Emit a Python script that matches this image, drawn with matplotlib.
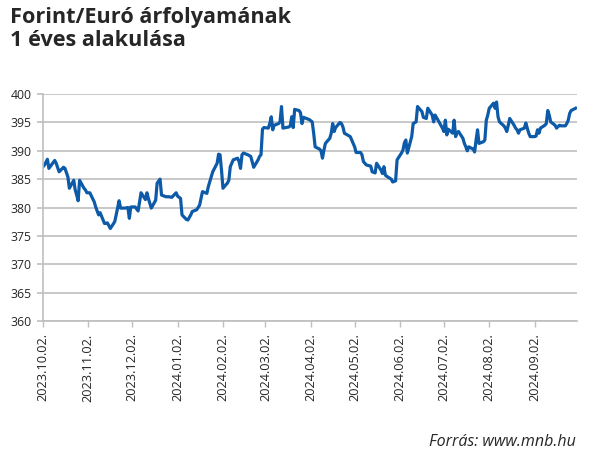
import matplotlib
matplotlib.use('Agg')
import matplotlib.pyplot as plt
import matplotlib.dates as mdates
import pandas as pd

# ============ data (EUR/HUF) ============
dates = [
    "2023-10-02", "2023-10-03", "2023-10-05", "2023-10-06", "2023-10-10", "2023-10-11", "2023-10-13",
    "2023-10-16", "2023-10-17", "2023-10-19", "2023-10-20", "2023-10-23", "2023-10-24", "2023-10-25",
    "2023-10-26", "2023-10-27", "2023-10-30", "2023-10-31", "2023-11-01", "2023-11-03", "2023-11-06",
    "2023-11-07", "2023-11-09", "2023-11-10", "2023-11-13", "2023-11-14", "2023-11-15", "2023-11-17",
    "2023-11-20", "2023-11-21", "2023-11-23", "2023-11-24", "2023-11-27", "2023-11-29", "2023-11-30",
    "2023-12-01", "2023-12-04", "2023-12-06", "2023-12-08", "2023-12-11", "2023-12-12", "2023-12-13",
    "2023-12-15", "2023-12-18", "2023-12-19", "2023-12-21", "2023-12-22", "2023-12-25", "2023-12-27",
    "2023-12-29", "2024-01-01", "2024-01-02", "2024-01-04", "2024-01-05", "2024-01-08", "2024-01-09",
    "2024-01-11", "2024-01-12", "2024-01-15", "2024-01-17", "2024-01-19", "2024-01-22", "2024-01-23",
    "2024-01-25", "2024-01-26", "2024-01-29", "2024-01-30", "2024-01-31", "2024-02-01", "2024-02-02",
    "2024-02-05", "2024-02-06", "2024-02-07", "2024-02-09", "2024-02-12", "2024-02-13", "2024-02-14",
    "2024-02-15", "2024-02-16", "2024-02-19", "2024-02-21", "2024-02-23", "2024-02-26", "2024-02-27",
    "2024-02-28", "2024-02-29", "2024-03-01", "2024-03-04", "2024-03-05", "2024-03-06", "2024-03-07",
    "2024-03-08", "2024-03-11", "2024-03-12", "2024-03-13", "2024-03-14", "2024-03-18", "2024-03-19",
    "2024-03-20", "2024-03-21", "2024-03-22", "2024-03-25", "2024-03-26", "2024-03-27", "2024-03-28",
    "2024-04-01", "2024-04-02", "2024-04-03", "2024-04-04", "2024-04-05", "2024-04-08", "2024-04-09",
    "2024-04-10", "2024-04-11", "2024-04-12", "2024-04-15", "2024-04-16", "2024-04-17", "2024-04-18",
    "2024-04-19", "2024-04-22", "2024-04-23", "2024-04-24", "2024-04-25", "2024-04-29", "2024-04-30",
    "2024-05-02", "2024-05-03", "2024-05-06", "2024-05-07", "2024-05-08", "2024-05-10", "2024-05-13",
    "2024-05-14", "2024-05-16", "2024-05-17", "2024-05-20", "2024-05-21", "2024-05-22", "2024-05-23",
    "2024-05-24", "2024-05-27", "2024-05-28", "2024-05-30", "2024-05-31", "2024-06-03", "2024-06-04",
    "2024-06-05", "2024-06-06", "2024-06-07", "2024-06-10", "2024-06-11", "2024-06-13", "2024-06-14",
    "2024-06-17", "2024-06-18", "2024-06-20", "2024-06-21", "2024-06-24", "2024-06-25", "2024-06-26",
    "2024-06-28", "2024-07-01", "2024-07-02", "2024-07-03", "2024-07-04", "2024-07-05", "2024-07-08",
    "2024-07-09", "2024-07-10", "2024-07-11", "2024-07-12", "2024-07-15", "2024-07-16", "2024-07-17",
    "2024-07-18", "2024-07-19", "2024-07-22", "2024-07-23", "2024-07-24", "2024-07-25", "2024-07-26",
    "2024-07-29", "2024-07-30", "2024-07-31", "2024-08-01", "2024-08-02", "2024-08-05", "2024-08-06",
    "2024-08-07", "2024-08-08", "2024-08-09", "2024-08-12", "2024-08-13", "2024-08-14", "2024-08-15",
    "2024-08-16", "2024-08-19", "2024-08-20", "2024-08-21", "2024-08-22", "2024-08-23", "2024-08-26",
    "2024-08-27", "2024-08-28", "2024-08-29", "2024-08-30", "2024-09-02", "2024-09-03", "2024-09-04",
    "2024-09-05", "2024-09-06", "2024-09-09", "2024-09-10", "2024-09-11", "2024-09-12", "2024-09-13",
    "2024-09-16", "2024-09-17", "2024-09-19", "2024-09-20", "2024-09-23", "2024-09-24", "2024-09-25",
    "2024-09-26", "2024-09-27", "2024-09-30",
]
rates = [
    387.2, 387.5, 388.5, 386.9, 388.3, 387.8, 386.3,
    387.1, 386.9, 385.4, 383.4, 384.8, 383.1, 382.2,
    381.2, 384.8, 383.4, 383.1, 382.6, 382.6, 381.0,
    380.1, 378.7, 379.1, 377.2, 377.2, 377.3, 376.3,
    377.5, 378.7, 381.2, 379.9, 379.9, 380.0, 378.1,
    380.1, 380.1, 379.4, 382.6, 381.4, 382.6, 381.6,
    379.9, 381.3, 384.3, 385.0, 382.2, 381.9, 381.9,
    381.8, 382.6, 382.0, 381.6, 378.7, 377.9, 377.8,
    378.7, 379.3, 379.6, 380.4, 382.8, 382.5, 383.7,
    385.4, 386.3, 387.8, 389.4, 389.3, 386.6, 383.4,
    384.3, 384.8, 387.2, 388.4, 388.7, 388.1, 386.9,
    389.3, 389.6, 389.3, 389.0, 387.1, 388.4, 389.0,
    389.3, 393.8, 394.1, 394.0, 394.8, 396.0, 393.7,
    394.5, 394.8, 395.1, 397.8, 394.0, 394.2, 394.4,
    396.0, 394.1, 397.3, 397.1, 396.7, 394.8, 395.9,
    395.5, 395.3, 395.1, 393.1, 390.7, 390.3, 390.0,
    388.7, 390.1, 391.3, 392.2, 393.1, 394.8, 393.4,
    394.1, 395.0, 394.8, 394.2, 393.1, 392.5, 391.9,
    390.7, 389.7, 389.7, 389.3, 388.1, 387.5, 387.3,
    386.3, 386.1, 387.8, 386.6, 386.0, 387.2, 385.7,
    385.5, 385.0, 384.5, 384.7, 388.4, 389.6, 390.1,
    391.4, 391.9, 389.6, 392.5, 394.8, 395.1, 397.8,
    396.9, 395.9, 395.7, 397.5, 396.3, 395.1, 396.3,
    395.4, 394.0, 393.4, 395.4, 392.8, 393.8, 393.1,
    395.4, 392.5, 393.2, 393.4, 392.2, 391.3, 390.7,
    390.0, 390.7, 390.3, 389.8, 391.9, 393.7, 391.3,
    391.6, 391.9, 395.4, 396.3, 397.5, 398.4, 397.5,
    398.6, 396.0, 395.1, 394.4, 394.0, 393.4, 394.5,
    395.7, 394.5, 394.0, 393.7, 393.1, 393.7, 394.0,
    394.9, 394.0, 393.1, 392.5, 392.5, 392.6, 393.7,
    393.1, 394.0, 394.5, 394.8, 397.1, 396.3, 395.1,
    394.5, 394.0, 394.5, 394.4, 394.4, 394.8, 395.4,
    396.6, 397.1, 397.5,
]
y_ticks = [360, 365, 370, 375, 380, 385, 390, 395, 400]
title = "Forint/Euró árfolyamának\n1 éves alakulása"
source = "Forrás: www.mnb.hu"

LINE_COLOR = '#0d5ba8'
GRID_COLOR = '#bfbfbf'
TEXT_COLOR = '#262626'
FONT = 'Open Sans'

x = pd.to_datetime(dates)

fig = plt.figure(figsize=(6.0, 4.65), dpi=100)
ax = fig.add_axes([0.0717, 0.3097, 0.89, 0.488])

ax.plot(x, rates, color=LINE_COLOR, linewidth=2.3, solid_joinstyle='round')

# axes / grid
ax.set_ylim(360, 400)
ax.set_yticks(y_ticks)
ax.set_xlim(pd.Timestamp('2023-10-02'), pd.Timestamp('2024-10-01'))
ax.xaxis.set_major_locator(mdates.MonthLocator(bymonthday=2))
ax.xaxis.set_major_formatter(mdates.DateFormatter('%Y.%m.%d.'))
ax.grid(axis='y', color=GRID_COLOR, linewidth=1.2)
ax.set_axisbelow(True)

for side in ['top', 'right']:
    ax.spines[side].set_visible(False)
for side in ['left', 'bottom']:
    ax.spines[side].set_color(GRID_COLOR)
    ax.spines[side].set_linewidth(1.2)

ax.tick_params(axis='y', length=4, width=1.2, color=GRID_COLOR, pad=4,
               labelsize=8.8, labelcolor=TEXT_COLOR)
ax.tick_params(axis='x', length=4, width=1, color=GRID_COLOR, pad=5,
               labelsize=9.2, labelcolor=TEXT_COLOR, labelrotation=90)
for lbl in ax.get_xticklabels() + ax.get_yticklabels():
    lbl.set_family(FONT)

# title + source
fig.text(0.017, 0.985, title, ha='left', va='top', fontsize=15.6, fontweight='bold',
         family=FONT, color=TEXT_COLOR, linespacing=1.15)
fig.text(0.96, 0.033, source, ha='right', va='bottom', fontsize=11.5, style='italic',
         family=FONT, color=TEXT_COLOR)

plt.savefig('out.png', dpi=100, facecolor='white')
plt.close()
